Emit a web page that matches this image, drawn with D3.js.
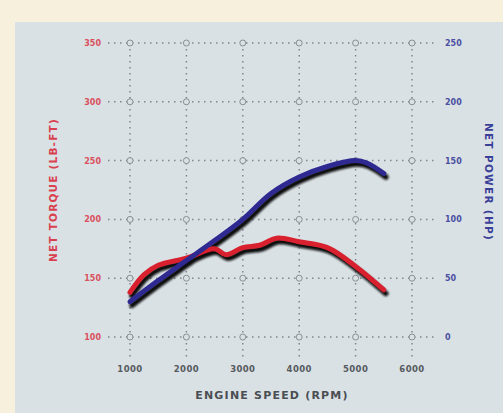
<!DOCTYPE html>
<html><head><meta charset="utf-8">
<script src="https://cdn.jsdelivr.net/npm/d3@7"></script>
<style>body{margin:0;background:#f6f0dc;}svg{display:block}</style>
</head><body><svg id="c" width="503" height="413"></svg>
<script>
const rpmTicks = [1000, 2000, 3000, 4000, 5000, 6000];
const torqueTicks = [100, 150, 200, 250, 300, 350];
const powerTicks = [0, 50, 100, 150, 200, 250];
const torqueRpm = [1000, 1250, 1500, 2000, 2500, 2700, 3000, 3300, 3600, 4000, 4500, 5000, 5500];
const torqueVal = [138, 153, 161, 167, 175, 170, 176, 178, 184, 181, 176, 160, 140];
const powerRpm = [1000, 1500, 2000, 2500, 3000, 3500, 4000, 4500, 5000, 5200, 5500];
const powerVal = [30, 48, 65, 82, 100, 122, 136, 145, 150, 148, 139];

const svg = d3.select("#c");
const defs = svg.append("defs");
defs.append("filter").attr("id","blur").attr("x","-10%").attr("y","-10%").attr("width","120%").attr("height","130%")
  .append("feGaussianBlur").attr("stdDeviation",1.2);
svg.append("rect").attr("x",0).attr("y",0).attr("width",503).attr("height",413).attr("fill","#f6f0dc");
svg.append("rect").attr("x",15).attr("y",22).attr("width",488).attr("height",391).attr("fill","#dae1e5");

const x = d3.scaleLinear().domain([1000,6000]).range([130,412]);
const yT = d3.scaleLinear().domain([100,350]).range([337,43]);
const yP = d3.scaleLinear().domain([0,250]).range([337,43]);

const grid = svg.append("g");
torqueTicks.forEach(t=>{
  grid.append("line").attr("x1",108).attr("x2",438).attr("y1",yT(t)).attr("y2",yT(t))
    .attr("stroke","#80868a").attr("stroke-width",1.5).attr("stroke-dasharray","1.5,4.5");
});
rpmTicks.forEach(r=>{
  grid.append("line").attr("x1",x(r)).attr("x2",x(r)).attr("y1",43).attr("y2",357)
    .attr("stroke","#80868a").attr("stroke-width",1.5).attr("stroke-dasharray","1.5,4.5");
});
rpmTicks.forEach(r=>torqueTicks.forEach(t=>{
  grid.append("circle").attr("cx",x(r)).attr("cy",yT(t)).attr("r",3)
    .attr("fill","#dae1e5").attr("stroke","#80868a").attr("stroke-width",0.9);
}));

const tickFont = {family:"DejaVu Sans", size:8};
svg.append("g").selectAll("text").data(torqueTicks).join("text")
  .attr("x",101).attr("y",d=>yT(d)+3).attr("text-anchor","end")
  .attr("font-family",tickFont.family).attr("font-weight","bold").attr("font-size",tickFont.size)
  .attr("fill","#d9505c").text(d=>d);
svg.append("g").selectAll("text").data(powerTicks).join("text")
  .attr("x",445).attr("y",d=>yP(d)+3).attr("text-anchor","start")
  .attr("font-family",tickFont.family).attr("font-weight","bold").attr("font-size",tickFont.size)
  .attr("fill","#4a4fa0").text(d=>d);
svg.append("g").selectAll("text").data(rpmTicks).join("text")
  .attr("x",d=>x(d)).attr("y",372).attr("text-anchor","middle")
  .attr("font-family",tickFont.family).attr("font-weight","bold").attr("font-size",8.5)
  .attr("letter-spacing",0.4)
  .attr("fill","#555a5e").text(d=>d);

svg.append("text").attr("transform","translate(57,190) rotate(-90)").attr("text-anchor","middle")
  .attr("font-family","DejaVu Sans").attr("font-weight","bold").attr("font-size",10.5)
  .attr("letter-spacing",1.2)
  .attr("fill","#d9404e").text("NET TORQUE (LB-FT)");
svg.append("text").attr("transform","translate(485,182) rotate(90)").attr("text-anchor","middle")
  .attr("font-family","DejaVu Sans").attr("font-weight","bold").attr("font-size",10.5)
  .attr("letter-spacing",1.3)
  .attr("fill","#3a3f98").text("NET POWER (HP)");
svg.append("text").attr("x",272).attr("y",399).attr("text-anchor","middle")
  .attr("font-family","DejaVu Sans").attr("font-weight","bold").attr("font-size",11)
  .attr("letter-spacing",1.2)
  .attr("fill","#4a4e52").text("ENGINE SPEED (RPM)");

const lineT = d3.line().x((d,i)=>x(torqueRpm[i])).y(d=>yT(d)).curve(d3.curveCatmullRom);
const lineP = d3.line().x((d,i)=>x(powerRpm[i])).y(d=>yP(d)).curve(d3.curveCatmullRom);

const shadow = svg.append("g").attr("transform","translate(2,3.5)").attr("filter","url(#blur)");
shadow.append("path").attr("d",lineT(torqueVal)).attr("fill","none").attr("stroke","#111").attr("stroke-width",5.5).attr("stroke-linecap","round");
shadow.append("path").attr("d",lineP(powerVal)).attr("fill","none").attr("stroke","#111").attr("stroke-width",5.5).attr("stroke-linecap","round");
svg.append("path").attr("d",lineT(torqueVal)).attr("fill","none").attr("stroke","#d8202e").attr("stroke-width",5).attr("stroke-linecap","round");
svg.append("path").attr("d",lineP(powerVal)).attr("fill","none").attr("stroke","#2e2a92").attr("stroke-width",5).attr("stroke-linecap","round");
</script></body></html>
